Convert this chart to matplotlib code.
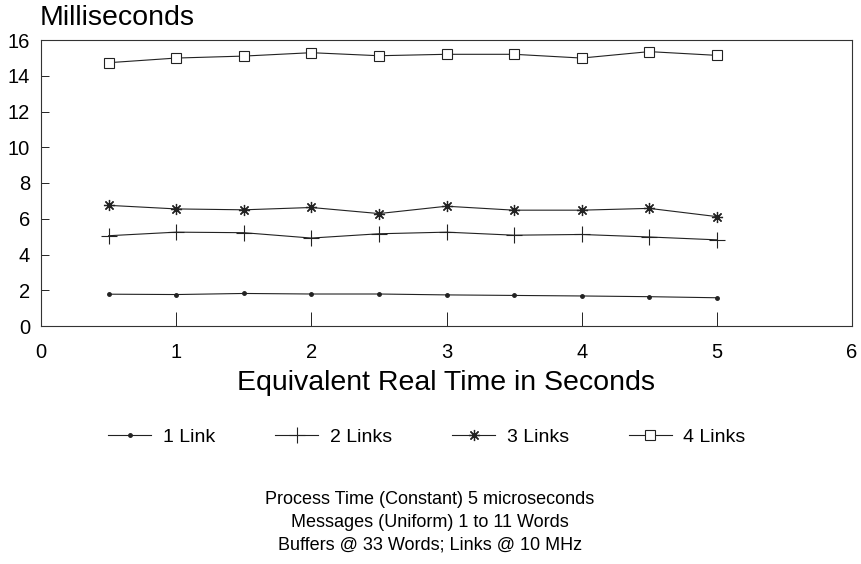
import numpy as np
import matplotlib
matplotlib.use('Agg')
import matplotlib.pyplot as plt

plt.rcParams['font.family'] = ['Liberation Sans', 'DejaVu Sans']

# Data
seconds = [0.5, 1.0, 1.5, 2.0, 2.5, 3.0, 3.5, 4.0, 4.5, 5.0]
link1 = [1.78, 1.76, 1.82, 1.79, 1.79, 1.74, 1.71, 1.68, 1.64, 1.58]
link2 = [5.05, 5.25, 5.22, 4.92, 5.16, 5.25, 5.08, 5.12, 4.98, 4.82]
link3 = [6.75, 6.55, 6.50, 6.63, 6.29, 6.70, 6.48, 6.48, 6.58, 6.12]
link4 = [14.73, 14.99, 15.10, 15.29, 15.12, 15.20, 15.20, 14.99, 15.35, 15.14]
series_labels = ['1 Link', '2 Links', '3 Links', '4 Links']
notes = ['Process Time (Constant) 5 microseconds',
         'Messages (Uniform) 1 to 11 Words',
         'Buffers @ 33 Words; Links @ 10 MHz']

fig = plt.figure(figsize=(8.61, 5.64), dpi=100)
ax = fig.add_axes([41 / 861, 238 / 564, 811 / 861, 286 / 564])

line_kw = dict(color='#222222', linewidth=0.8)
h1, = ax.plot(seconds, link1, marker='o', markersize=2.5, **line_kw)
h2, = ax.plot(seconds, link2, marker='+', markersize=11, markeredgewidth=0.8, **line_kw)
h3, = ax.plot(seconds, link3, marker=(8, 2, 0), markersize=8, markeredgewidth=0.9, **line_kw)
h4, = ax.plot(seconds, link4, marker='s', markersize=6.5, markerfacecolor='white',
              markeredgewidth=0.8, **line_kw)

ax.set_xlim(0, 6)
ax.set_ylim(0, 16)
ax.set_yticks(range(0, 17, 2))
ax.set_xticks(range(0, 7))
for s in ax.spines.values():
    s.set_linewidth(0.8)
    s.set_color('#333333')
ax.tick_params(axis='y', direction='in', length=6, width=0.6, labelsize=14.5, pad=8)
ax.tick_params(axis='x', direction='in', length=10, width=0.6, labelsize=14.5, pad=12)
# no tick marks at the ends of either axis, labels stay
for t in (ax.xaxis.get_major_ticks()[0], ax.xaxis.get_major_ticks()[-1]):
    t.tick1line.set_visible(False)
for t in (ax.yaxis.get_major_ticks()[0], ax.yaxis.get_major_ticks()[-1]):
    t.tick1line.set_visible(False)

fig.text(40 / 861, 1 - 18 / 564, 'Milliseconds', fontsize=20.5, ha='left', va='center')
fig.text(446 / 861, 1 - 383 / 564, 'Equivalent Real Time in Seconds', fontsize=20.5,
         ha='center', va='center')

fig.legend([h1, h2, h3, h4], series_labels, loc='center', ncol=4,
           bbox_to_anchor=(427 / 861, 1 - 437 / 564), frameon=False, fontsize=14,
           handlelength=2.2, handletextpad=0.6, columnspacing=3.1)

for i, line in enumerate(notes):
    fig.text(430 / 861, 1 - (500 + 22.5 * i) / 564, line, fontsize=13,
             ha='center', va='center')

fig.savefig('out.png', dpi=100)
